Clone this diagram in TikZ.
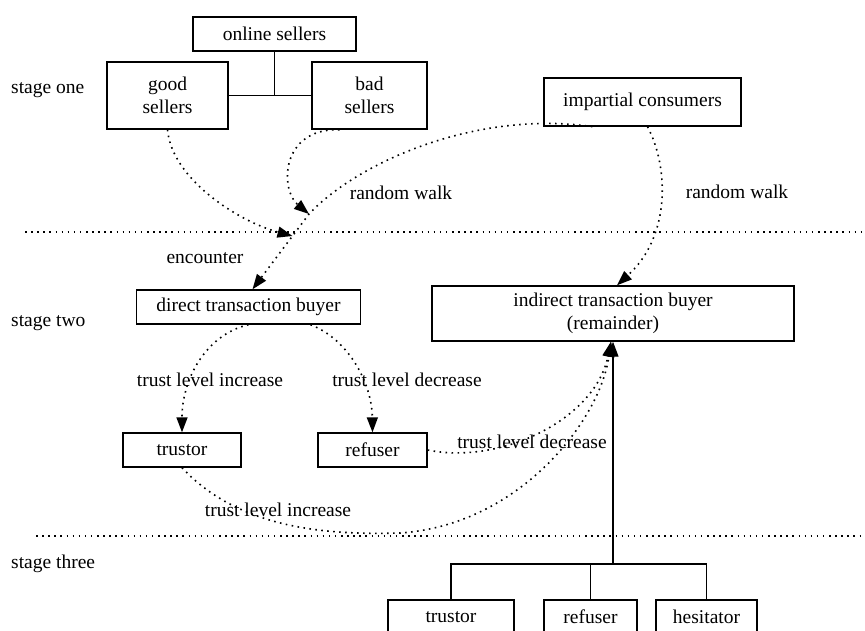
\documentclass[tikz,border=0pt]{standalone}
\usepackage{fontspec}
\setmainfont{Liberation Serif}
\usetikzlibrary{arrows.meta,positioning}

\begin{document}
\begin{tikzpicture}[x=1pt,y=-1pt,>={Triangle[length=15pt,width=11pt]},
  every node/.style={font=\fontsize{19.5}{23}\selectfont,align=center,inner sep=0pt},
  box/.style={draw,line width=1.4pt,minimum height=34pt},
  flow/.style={->,line width=1.6pt,dash pattern=on 1.6pt off 4.4pt},
  sep/.style={line width=1.5pt,dash pattern=on 1.5pt off 4.6pt},
  tree/.style={line width=1.1pt}]

\useasboundingbox (0,0) rectangle (865,630);
\clip (0,0) rectangle (865,630);

% Etapas
\node[anchor=west] (s1) at (11,90) {stage one};
\node[anchor=west] (s2) at (11,323) {stage two};
\node[anchor=west] (s3) at (11,564) {stage three};

\draw[sep] (25,232) -- (865,232);
\draw[sep] (36,536) -- (865,536);

% Nodos de la etapa uno
\node[box, minimum width=163pt] (online) at (274.5,34) {online sellers};
\node[box, minimum width=121pt, minimum height=67pt] (good) at (167.5,95.5) {good\\sellers};
\node[box, minimum width=115pt, minimum height=67pt] (bad) at (369.5,95.5) {bad\\sellers};
\node[box, minimum width=197pt, minimum height=48pt] (impart) at (642.5,102) {impartial consumers};

\draw[tree] (online.south) -- (online.south |- good.east);
\draw[tree] (good.east) -- (bad.west);

% Nodos de la etapa dos
\node[box, minimum width=224pt] (direct) at (248.5,307) {direct transaction buyer};
\node[box, minimum width=362pt, minimum height=55pt] (indirect) at (613,313.5) {indirect transaction buyer\\(remainder)};
\node[box, minimum width=118pt] (trustor) at (182,450) {trustor};
\node[box, minimum width=109pt] (refuser) at (372.5,450) {refuser};

% Nodos de la etapa tres
\node[box, minimum width=126pt] (tr2) at (451,617) {trustor};
\node[box, minimum width=93pt] (ref2) at (590.5,617) {refuser};
\node[box, minimum width=101pt] (hes) at (706.5,617) {hesitator};

\coordinate (jn) at (613,564);
\draw[tree] (tr2.north) |- (jn) -| (hes.north);
\draw[tree] (ref2.north) -- (ref2.north |- jn);
\draw[tree,->] (jn) -- (indirect.south);

% Encuentro
\coordinate (walk) at (309,214);
\coordinate (meet) at (292.5,236);

\draw[flow] (good.south) .. controls (172,180) and (240,222) .. (meet);
\draw[flow] ([xshift=-30pt]bad.south) .. controls (280,128) and (280,190) .. (walk);
\draw[flow] ([xshift=-50pt]impart.south) .. controls (480,110) and (360,160) .. (walk) -- ([xshift=4pt]direct.north);
\draw[flow] ([xshift=5pt]impart.south) .. controls (668,165) and (672,235) .. ([xshift=4pt]indirect.north);

% Confianza
\draw[flow] (direct.south) .. controls (205,335) and (182,380) .. (trustor.north);
\draw[flow] ([xshift=62pt]direct.south) .. controls (350,340) and (372,385) .. (refuser.north);
\draw[flow] (refuser.east) .. controls (500,465) and (595,420) .. ([xshift=-2pt]indirect.south);
\draw[flow] (trustor.south) .. controls (240,530) and (330,535) .. (400,533)
  .. controls (520,525) and (600,420) .. ([xshift=-2pt]indirect.south);

% Etiquetas
\node (rw1) at (401,193) {random walk};
\node (rw2) at (737,192) {random walk};
\node (enc) at (205,258) {encounter};
\node (inc1) at (210,380) {trust level increase};
\node (dec1) at (407,380) {trust level decrease};
\node (dec2) at (532,442) {trust level decrease};
\node (inc2) at (278,510) {trust level increase};

\end{tikzpicture}
\end{document}
